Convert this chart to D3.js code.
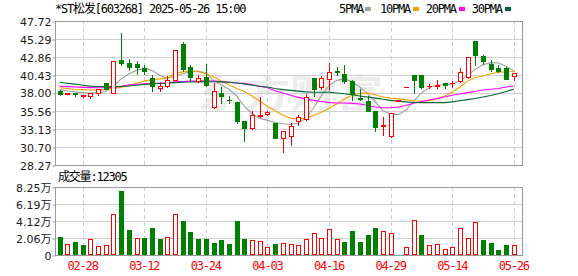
<!DOCTYPE html>
<html>
<head>
<meta charset="utf-8">
<script src="https://cdn.jsdelivr.net/npm/d3@7"></script>
<style>
body { margin: 0; background: #fff; }
svg { display: block; }
</style>
</head>
<body>
<div id="chart"></div>
<script>
// trading days shown (60)
const dates = ["02-25","02-26","02-27","02-28","03-03","03-04","03-05","03-06","03-07","03-10",
  "03-11","03-12","03-13","03-14","03-17","03-18","03-19","03-20","03-21","03-24",
  "03-25","03-26","03-27","03-28","03-31","04-01","04-02","04-03","04-07","04-08",
  "04-09","04-10","04-11","04-14","04-15","04-16","04-17","04-18","04-21","04-22",
  "04-23","04-24","04-25","04-29","04-30","05-06","05-07","05-08","05-09","05-12",
  "05-13","05-14","05-15","05-16","05-19","05-20","05-21","05-22","05-23","05-26"];

const opens = [38.30,37.92,37.95,37.62,37.55,38.05,39.30,38.05,42.40,42.04,
  41.95,41.37,40.02,38.62,38.89,39.80,44.65,41.46,39.65,40.15,
  36.05,37.99,37.10,36.77,34.20,33.26,34.85,35.12,33.90,31.87,
  32.18,34.21,34.52,39.97,38.85,39.84,40.90,40.56,39.66,37.30,
  36.85,35.60,33.60,32.14,36.90,38.85,40.42,40.42,38.90,39.00,
  39.34,39.30,39.57,40.11,45.01,42.99,41.90,41.32,41.37,40.24];
const highs = [38.35,37.98,38.05,37.72,38.00,38.60,39.35,42.31,46.14,42.58,
  42.27,41.73,40.47,39.43,40.33,43.85,44.83,41.82,40.47,41.90,
  39.40,38.76,37.63,36.80,34.20,35.60,37.45,35.50,33.90,32.90,
  33.94,35.06,37.81,40.00,40.33,42.09,41.45,41.73,39.70,38.53,
  37.63,35.60,34.70,35.30,37.05,38.85,40.45,40.45,39.20,39.75,
  39.35,39.57,41.32,42.81,45.01,43.17,42.40,41.73,41.50,40.70];
const lows = [37.75,37.80,37.65,37.45,37.30,37.70,38.50,37.95,41.73,41.10,
  40.51,40.50,38.22,38.30,38.80,39.70,41.00,39.70,39.50,38.90,
  36.00,36.64,36.64,33.98,31.55,33.13,34.80,34.97,31.90,29.98,
  30.97,33.62,34.39,37.63,38.53,38.35,40.46,39.39,37.09,37.00,
  35.50,32.81,32.36,32.10,36.85,38.85,38.04,38.62,38.62,38.62,
  38.70,38.76,39.52,40.02,41.73,41.95,40.96,40.83,39.93,39.79];
const closes = [37.80,37.95,37.90,37.70,37.98,38.55,38.55,42.31,42.00,41.46,
  41.46,40.90,38.98,38.90,39.75,43.75,41.28,40.10,40.00,39.03,
  38.30,37.63,37.05,34.25,33.30,34.97,35.00,35.39,31.96,32.86,
  33.53,34.70,37.45,38.53,40.02,40.83,40.85,39.57,37.85,37.22,
  35.50,33.35,33.70,35.24,37.00,38.85,39.79,38.76,38.95,39.05,
  39.07,39.35,40.78,42.81,43.17,42.36,41.28,40.92,39.93,40.69];

// volume in shares
const volumes = [21800,13300,15800,12100,19000,10500,12100,49300,77600,30300,
  20600,20600,32800,19400,21400,49300,41200,27900,19400,19400,
  14600,17800,13300,41200,19400,17800,17000,9300,13300,14200,
  13300,11700,19000,26300,20200,31100,19400,15800,29100,15800,
  24300,32800,29100,26700,800,9300,42100,24300,11700,12900,
  7300,9300,32400,20200,39600,18200,14600,6100,12100,12305];

const ma5 = [38.45,38.30,38.15,38.05,38.00,38.05,38.20,38.90,39.90,40.55,
  41.05,41.35,41.05,40.40,40.00,40.30,40.60,40.85,40.95,40.70,
  39.70,39.10,38.50,37.60,36.20,35.20,34.60,34.30,34.00,33.85,
  33.75,33.90,34.60,36.00,37.60,39.00,39.70,39.90,39.50,38.80,
  37.90,36.80,35.60,35.15,35.05,35.70,36.90,38.00,38.70,39.05,
  39.10,39.20,39.60,40.40,41.20,41.80,42.10,42.05,41.60,41.00];
const ma10 = [38.70,38.60,38.50,38.45,38.40,38.40,38.45,38.60,38.75,39.00,
  39.30,39.60,39.80,39.90,40.00,40.65,40.85,40.95,40.90,40.60,
  40.20,39.60,39.10,38.60,38.20,37.60,36.90,36.20,35.60,35.00,
  34.60,34.45,34.60,34.95,35.40,35.90,36.50,37.20,37.70,37.95,
  38.00,37.75,37.45,37.30,37.20,37.10,36.95,36.90,36.95,37.20,
  37.60,38.10,38.80,39.60,40.10,40.30,40.60,40.80,40.85,40.90];
const ma20 = [38.90,38.85,38.80,38.75,38.72,38.70,38.70,38.75,38.90,39.10,
  39.15,39.25,39.30,39.30,39.35,39.50,39.55,39.60,39.62,39.65,
  39.62,39.55,39.45,39.35,39.30,39.10,38.90,38.70,38.30,38.00,
  37.70,37.40,37.20,37.00,36.85,36.70,36.65,36.65,36.60,36.50,
  36.30,36.10,36.00,36.00,36.10,36.30,36.60,36.85,37.05,37.25,
  37.45,37.70,37.85,38.05,38.20,38.40,38.50,38.60,38.80,38.95];
const ma30 = [39.44,39.32,39.20,39.05,38.92,38.87,38.85,38.85,38.87,38.95,
  39.05,39.15,39.22,39.27,39.32,39.40,39.45,39.48,39.50,39.52,
  39.52,39.50,39.45,39.35,39.20,39.05,38.90,38.80,38.60,38.45,
  38.35,38.25,38.15,38.10,38.10,38.10,38.00,37.90,37.75,37.60,
  37.45,37.30,37.15,37.00,36.90,36.80,36.72,36.70,36.70,36.70,
  36.70,36.80,36.95,37.10,37.25,37.45,37.65,37.90,38.20,38.50];

const priceTicks = [28.27, 30.70, 33.13, 35.56, 38.00, 40.43, 42.86, 45.29, 47.72];
const volTicks = [0, 20600, 41200, 61900, 82500];
const volTickLabels = ["0", "2.06万", "4.12万", "6.19万", "8.25万"];
const xTickLabels = ["02-28","03-12","03-24","04-03","04-16","04-29","05-14","05-26"];
const title = "*ST松发[603268] 2025-05-26 15:00";
const volTitle = "成交量:12305";
const legendItems = ["5PMA", "10PMA", "20PMA", "30PMA"];

const w = 578, h = 276;
const left = 55, right = 522;
const pTop = 21, pBot = 165, vTop = 187, vBot = 255;
const up = "#ff0000", down = "#008000";
const maColors = ["#a0a0a0", "#f5a000", "#ff00ff", "#006633"];
const mono = "'DejaVu Sans Mono', 'Noto Sans CJK SC', monospace";

const svg = d3.select("#chart").append("svg")
  .attr("width", w)
  .attr("height", h);

const x = d3.scaleBand().domain(dates).range([55.65, 517.65]);
const mid = d => x(d) + x.bandwidth() / 2;
const px = d => Math.round(mid(d));
const y = d3.scaleLinear().domain([28.27, 47.72]).range([pBot, pTop]);
const yv = d3.scaleLinear().domain([0, 82500]).range([vBot, vTop]);
const snap = v => Math.round(v) + 0.5;

// watermark
svg.append("text")
  .attr("x", 290).attr("y", 107)
  .attr("text-anchor", "middle")
  .attr("textLength", 186).attr("lengthAdjust", "spacingAndGlyphs")
  .style("font-family", "'Noto Sans CJK SC'")
  .style("font-weight", "bold")
  .style("font-size", "38px")
  .style("fill", "#ececec")
  .text("东方财富");

// horizontal grid
svg.append("g").selectAll("line")
  .data(priceTicks.slice(1, -1))
  .join("line")
  .attr("x1", left).attr("x2", right)
  .attr("y1", d => snap(y(d))).attr("y2", d => snap(y(d)))
  .attr("stroke", "#d0d0d0");
svg.append("g").selectAll("line")
  .data(volTicks.slice(1, -1))
  .join("line")
  .attr("x1", left).attr("x2", right)
  .attr("y1", d => snap(yv(d))).attr("y2", d => snap(yv(d)))
  .attr("stroke", "#d0d0d0");

// vertical dashed grid
[[pTop, pBot], [vTop, vBot]].forEach(([t, b]) => {
  svg.append("g").selectAll("line")
    .data(xTickLabels)
    .join("line")
    .attr("x1", d => px(d) + 0.5).attr("x2", d => px(d) + 0.5)
    .attr("y1", t).attr("y2", b)
    .attr("stroke", "#cfcfcf")
    .attr("stroke-dasharray", "4,3");
});

// moving averages
[ma5, ma10, ma20, ma30].forEach((arr, k) => {
  const line = d3.line()
    .x((d, i) => mid(dates[i]))
    .y(d => y(d));
  svg.append("path")
    .datum(arr)
    .attr("d", line)
    .attr("fill", "none")
    .attr("stroke", maColors[k])
    .attr("stroke-width", 1.1);
});

// candles
const candles = svg.append("g");
dates.forEach((d, i) => {
  const o = opens[i], c = closes[i];
  const isUp = c >= o;
  const col = isUp ? up : down;
  const cxp = px(d);
  candles.append("line")
    .attr("x1", cxp + 0.5).attr("x2", cxp + 0.5)
    .attr("y1", Math.round(y(highs[i]))).attr("y2", Math.round(y(lows[i])) + 1)
    .attr("stroke", col);
  const top = Math.round(y(Math.max(o, c)));
  const bot = Math.round(y(Math.min(o, c)));
  if (bot - top < 1) {
    candles.append("line")
      .attr("x1", cxp - 2).attr("x2", cxp + 3)
      .attr("y1", top + 0.5).attr("y2", top + 0.5)
      .attr("stroke", col);
  } else if (isUp) {
    candles.append("rect")
      .attr("x", cxp - 1.5).attr("y", top + 0.5)
      .attr("width", 4).attr("height", bot - top)
      .attr("fill", "#fff").attr("stroke", up);
  } else {
    candles.append("rect")
      .attr("x", cxp - 2).attr("y", top)
      .attr("width", 5).attr("height", bot - top + 1)
      .attr("fill", down);
  }
});

// volume bars (colour by change against previous close)
const vbars = svg.append("g");
dates.forEach((d, i) => {
  const rising = i === 0 ? closes[0] >= opens[0] : closes[i] >= closes[i - 1];
  const cxp = px(d);
  const top = Math.round(yv(volumes[i]));
  if (rising) {
    vbars.append("rect")
      .attr("x", cxp - 1.5).attr("y", top + 0.5)
      .attr("width", 4).attr("height", Math.max(0, vBot - top - 1))
      .attr("fill", "#fff").attr("stroke", up);
  } else {
    vbars.append("rect")
      .attr("x", cxp - 2).attr("y", top)
      .attr("width", 5).attr("height", vBot - top)
      .attr("fill", down);
  }
});

// panel borders
[[pTop, pBot], [vTop, vBot]].forEach(([t, b]) => {
  svg.append("rect")
    .attr("x", left + 0.5).attr("y", t + 0.5)
    .attr("width", right - left).attr("height", b - t)
    .attr("fill", "none").attr("stroke", "#999");
});

// axes
const yAxis = svg.append("g")
  .attr("transform", `translate(${left + 0.5},0.5)`)
  .call(d3.axisLeft(y).tickValues(priceTicks).tickFormat(d3.format(".2f")).tickSize(3).tickPadding(1));
const vAxis = svg.append("g")
  .attr("transform", `translate(${left + 0.5},0.5)`)
  .call(d3.axisLeft(yv).tickValues(volTicks).tickFormat((d, i) => volTickLabels[i]).tickSize(3).tickPadding(1));
[yAxis, vAxis].forEach(g => {
  g.select(".domain").remove();
  g.selectAll(".tick line").attr("stroke", "#999");
  g.selectAll("text")
    .style("font-family", "'DejaVu Sans', 'Noto Sans CJK SC', sans-serif")
    .style("font-size", "11px")
    .style("fill", "#1a1a1a");
});

const xAxis = svg.append("g")
  .attr("transform", `translate(0,${vBot})`)
  .call(d3.axisBottom(x).tickValues(xTickLabels).tickSize(0));
xAxis.select(".domain").remove();
xAxis.selectAll("text")
  .attr("y", 15).attr("dy", null)
  .style("font-family", mono)
  .style("font-size", "12px")
  .style("letter-spacing", "-1.2px")
  .style("fill", up);

// title, legend, volume caption
svg.append("text")
  .attr("x", 55).attr("y", 13)
  .style("font-family", mono).style("font-size", "12px")
  .style("letter-spacing", "-1.2px")
  .text(title);

const legendX = [339, 380, 425.7, 471.7];
const legendSq = [365, 413, 459, 505];
legendItems.forEach((t, k) => {
  svg.append("text")
    .attr("x", legendX[k]).attr("y", 13)
    .style("font-family", mono).style("font-size", "12px")
    .style("letter-spacing", "-1.2px")
    .text(t);
  svg.append("rect")
    .attr("x", legendSq[k]).attr("y", 7)
    .attr("width", 6).attr("height", 4)
    .attr("fill", maColors[k]);
});

svg.append("text")
  .attr("x", 58).attr("y", 181)
  .style("font-family", mono).style("font-size", "12px")
  .style("letter-spacing", "-1.2px")
  .text(volTitle);
</script>
</body>
</html>
